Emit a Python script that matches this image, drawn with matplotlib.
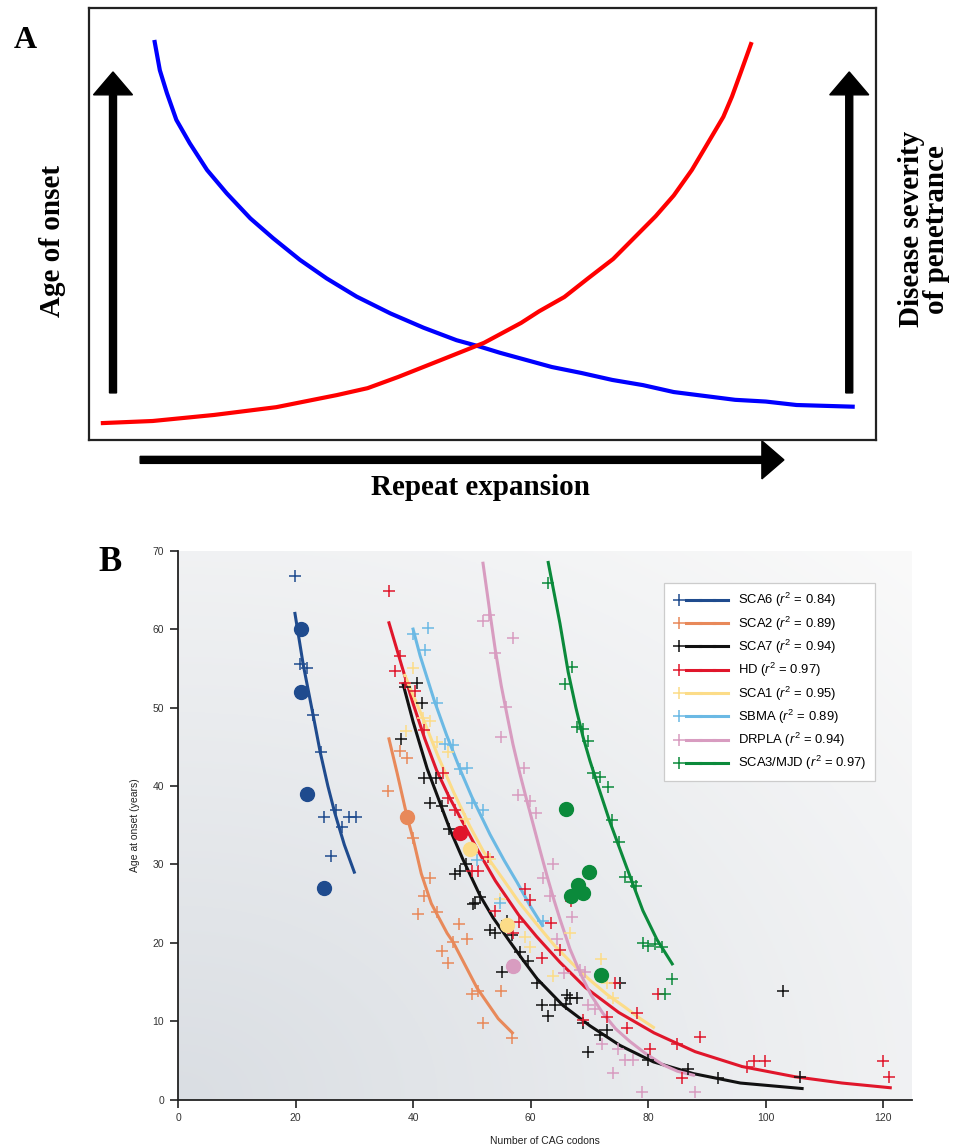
import numpy as np
import matplotlib
matplotlib.use('Agg')
import matplotlib.pyplot as plt
from matplotlib.patches import FancyArrow
from matplotlib.lines import Line2D
from matplotlib.legend_handler import HandlerTuple

plt.rcParams['font.family'] = ['Liberation Sans', 'DejaVu Sans']
plt.rcParams['mathtext.fontset'] = 'custom'
plt.rcParams['mathtext.rm'] = 'Liberation Sans'
plt.rcParams['mathtext.it'] = 'Liberation Sans:italic'

###panel A schematic curves (0-100 box units)###
onset_x = [8.3, 9.0, 9.9, 11.1, 12.8, 15.0, 17.5, 20.5, 23.4, 26.8, 30.2, 34.0, 38.3, 42.5, 46.7, 49.7,
           52.2, 58.8, 62.6, 66.5, 70.4, 74.3, 78.2, 82.1, 86.0, 89.9, 97.3]
onset_y = [92.6, 85.6, 80.3, 74.1, 68.7, 62.5, 57.1, 51.3, 46.7, 41.7, 37.4, 33.2, 29.3, 26.0, 23.1, 21.6,
           20.2, 16.9, 15.5, 13.9, 12.7, 11.1, 10.2, 9.3, 8.9, 8.1, 7.7]
severity_x = [1.5, 8.1, 15.9, 23.8, 31.5, 35.4, 39.3, 44.7, 50.2, 54.9, 57.2, 60.4, 63.4, 66.6, 69.6,
              72.0, 74.3, 76.6, 78.2, 80.6, 81.7, 82.8, 84.2]
severity_y = [3.9, 4.4, 5.8, 7.6, 10.4, 12.0, 14.6, 18.5, 22.5, 27.1, 29.8, 33.1, 37.4, 41.9, 47.4,
              51.8, 56.6, 62.5, 67.4, 74.8, 79.5, 85.0, 92.1]

###panel B data: crosses, filled dots, fitted curves###
sca6_x = [19.9, 20.8, 22.0, 23.0, 24.3, 24.8, 26.9, 27.9, 29.1, 30.3, 26.0]
sca6_y = [66.8, 55.5, 55.1, 49.0, 44.3, 36.0, 36.9, 34.7, 36.0, 36.0, 31.1]
sca6_dot_x = [20.9, 20.9, 22.0, 24.9]
sca6_dot_y = [60.0, 52.0, 39.0, 27.0]
sca6_fit_x = [19.9, 21.3, 23.0, 24.2, 25.5, 26.7, 28.3, 30.0]
sca6_fit_y = [62.0, 55.5, 49.0, 44.3, 40.0, 36.5, 32.5, 29.0]

sca2_x = [35.7, 37.8, 39.0, 40.0, 42.9, 41.9, 44.1, 40.9, 47.9, 49.2, 44.9, 46.8, 46.0, 50.0, 51.0, 51.9, 55.0, 56.9]
sca2_y = [39.4, 44.5, 43.5, 33.3, 28.2, 26.0, 23.9, 23.7, 22.4, 20.5, 18.9, 20.1, 17.4, 13.4, 13.8, 9.8, 13.9, 7.9]
sca2_dot_x = [39.0]
sca2_dot_y = [36.0]
sca2_fit_x = [35.9, 37.3, 39.0, 40.0, 41.4, 43.1, 45.8, 46.8, 50.9, 54.5, 56.9]
sca2_fit_y = [46.0, 41.6, 36.0, 33.3, 28.8, 25.0, 21.2, 20.1, 14.2, 10.3, 8.5]

sca7_x = [38.6, 40.7, 41.5, 38.0, 41.9, 43.9, 42.9, 44.9, 46.1, 49.0, 47.1, 48.0, 51.4, 50.2, 50.6,
          56.0, 53.1, 54.0, 56.9, 55.1, 58.2, 59.6, 61.1, 62.0, 63.0, 64.2, 66.2, 66.7, 67.9, 66.0,
          68.9, 73.0, 71.8, 69.8, 75.2, 80.0, 86.8, 91.9, 103.0, 105.9]
sca7_y = [52.6, 53.1, 50.6, 46.0, 41.0, 41.0, 37.8, 37.5, 34.5, 30.1, 28.8, 29.2, 25.8, 24.9, 25.1,
          22.8, 21.6, 21.2, 21.0, 16.2, 18.8, 17.7, 14.8, 12.0, 10.7, 12.0, 13.3, 12.9, 13.0, 12.2,
          9.8, 8.9, 8.2, 6.0, 14.9, 5.0, 3.9, 2.8, 13.9, 2.9]
sca7_fit_x = [38.3, 40.0, 42.4, 44.6, 46.3, 48.5, 51.4, 53.6, 56.5, 58.5, 61.1, 65.5, 70.1, 75.2, 80.9, 87.7, 95.7, 106.2]
sca7_fit_y = [53.0, 48.2, 42.2, 37.8, 34.4, 30.6, 26.0, 23.2, 20.1, 18.0, 15.4, 12.0, 9.4, 6.9, 4.8, 3.3, 2.1, 1.4]

hd_x = [35.9, 37.8, 36.9, 38.6, 40.4, 41.8, 45.1, 45.9, 47.1, 50.0, 51.0, 52.8, 59.0, 59.9, 54.0,
        58.1, 57.0, 63.5, 66.9, 65.0, 62.0, 74.3, 81.7, 78.1, 73.0, 68.9, 76.4, 80.3, 84.9, 88.9,
        85.8, 96.9, 98.0, 99.9, 120.0, 121.0]
hd_y = [64.9, 56.6, 54.7, 53.1, 52.1, 47.1, 41.7, 38.4, 36.9, 29.2, 29.2, 30.9, 26.8, 25.4, 24.1,
        22.7, 21.3, 22.5, 25.3, 19.1, 18.1, 14.9, 13.5, 11.0, 10.5, 10.1, 9.1, 6.5, 7.1, 8.0,
        2.8, 4.1, 4.9, 4.9, 4.9, 2.9]
hd_dot_x = [48.0]
hd_dot_y = [34.0]
hd_fit_x = [35.9, 38.0, 40.0, 42.0, 44.0, 46.0, 48.0, 51.0, 54.0, 58.0, 61.0, 65.0, 69.3, 75.0, 81.0, 88.0, 96.0, 105.0, 113.0, 121.2]
hd_fit_y = [60.8, 55.5, 50.5, 46.0, 42.0, 38.8, 36.0, 31.8, 27.9, 23.5, 20.8, 17.5, 14.3, 11.1, 8.5, 6.1, 4.2, 2.9, 2.1, 1.5]

sca1_x = [40.0, 41.7, 42.9, 46.0, 38.8, 44.0, 48.9, 53.1, 54.8, 59.0, 59.9, 63.8, 66.7, 72.0, 73.0, 74.0]
sca1_y = [55.0, 48.7, 48.3, 44.3, 47.0, 45.6, 35.8, 30.7, 25.6, 20.7, 19.4, 15.8, 21.2, 17.9, 14.9, 13.0]
sca1_dot_x = [49.7, 56.0]
sca1_dot_y = [32.0, 22.2]
sca1_fit_x = [38.6, 41.8, 44.3, 46.9, 49.7, 52.0, 55.4, 58.0, 61.0, 64.0, 67.0, 70.0, 73.0, 76.0, 78.5, 80.9]
sca1_fit_y = [54.1, 48.4, 43.7, 39.2, 34.8, 31.6, 28.0, 25.2, 22.4, 19.7, 17.4, 15.3, 13.4, 11.8, 10.4, 9.2]

sbma_x = [40.0, 42.6, 42.0, 44.1, 45.4, 46.8, 48.0, 49.2, 50.0, 51.9, 50.9, 62.1, 54.8]
sbma_y = [59.4, 60.1, 57.3, 50.6, 45.4, 45.2, 42.2, 42.3, 37.8, 36.9, 30.5, 22.8, 25.1]
sbma_fit_x = [40.0, 41.2, 43.6, 45.7, 48.0, 50.0, 53.1, 55.5, 57.7, 60.0, 62.0]
sbma_fit_y = [60.0, 56.6, 50.9, 46.5, 42.1, 38.6, 33.8, 30.5, 27.7, 24.6, 22.2]

drpla_x = [52.9, 51.9, 57.0, 54.0, 55.8, 55.0, 58.9, 57.9, 59.9, 60.9, 63.8, 62.1, 63.3, 67.1, 64.5,
           68.4, 69.3, 69.8, 71.0, 72.2, 74.9, 76.1, 77.4, 74.0, 79.0, 88.0, 65.7]
drpla_y = [61.8, 61.0, 58.9, 56.9, 50.1, 46.3, 42.3, 38.8, 38.1, 36.5, 30.1, 28.2, 26.0, 23.3, 20.5,
           16.5, 16.2, 12.0, 11.6, 7.1, 6.5, 5.0, 5.0, 3.4, 1.0, 1.0, 16.1]
drpla_dot_x = [57.0]
drpla_dot_y = [17.0]
drpla_fit_x = [51.9, 53.0, 54.0, 55.0, 56.0, 57.0, 58.2, 59.3, 60.4, 61.6, 62.8, 64.0, 65.0, 66.7, 68.4,
               70.3, 72.3, 74.5, 76.9, 79.5, 82.6, 85.0, 87.7]
drpla_fit_y = [68.4, 62.5, 57.3, 52.8, 49.0, 45.3, 41.5, 38.3, 35.2, 31.8, 28.5, 25.4, 23.0, 19.2, 16.2,
               13.3, 11.0, 9.0, 7.4, 5.9, 4.4, 3.6, 3.1]

sca3_x = [63.0, 67.1, 65.9, 67.9, 68.9, 69.8, 70.6, 71.8, 73.2, 73.9, 75.0, 76.1, 77.3, 78.0, 79.1,
          80.0, 81.2, 82.4, 84.1, 82.9]
sca3_y = [65.9, 55.2, 53.0, 47.5, 47.3, 45.7, 41.7, 41.1, 39.9, 35.6, 32.8, 28.4, 27.7, 27.2, 19.9,
          19.6, 19.8, 19.4, 15.4, 13.5]
sca3_dot_x = [66.0, 70.0, 68.1, 69.0, 66.9, 72.0]
sca3_dot_y = [37.0, 29.0, 27.4, 26.4, 26.0, 15.9]
sca3_fit_x = [63.0, 65.0, 66.4, 67.7, 68.9, 70.1, 71.3, 73.5, 76.4, 79.1, 81.5, 84.1]
sca3_fit_y = [68.5, 60.7, 54.5, 50.0, 46.3, 43.2, 40.4, 35.4, 29.5, 24.1, 20.4, 17.3]

labels = ['SCA6 ($r^2$ = 0.84)', 'SCA2 ($r^2$ = 0.89)', 'SCA7 ($r^2$ = 0.94)', 'HD ($r^2$ = 0.97)',
          'SCA1 ($r^2$ = 0.95)', 'SBMA ($r^2$ = 0.89)', 'DRPLA ($r^2$ = 0.94)', 'SCA3/MJD ($r^2$ = 0.97)']

###color scheme###
c_sca6 = '#1f4b8e'
c_sca2 = '#e8895a'
c_sca7 = '#111111'
c_hd = '#e0162b'
c_sca1 = '#fcdc88'
c_sbma = '#6bb9e4'
c_drpla = '#d89cc0'
c_sca3 = '#0b8a3b'

fig = plt.figure(figsize=(9.61, 11.47), dpi=100)

###panel A###
axA = fig.add_axes([89/961, 1-440/1147, 787/961, 432/1147])
axA.set_xlim(0, 100)
axA.set_ylim(0, 100)
axA.set_xticks([])
axA.set_yticks([])
for s in axA.spines.values():
    s.set_linewidth(1.6)
    s.set_color('#222222')

axA.plot(onset_x, onset_y, color='#0000ff', lw=3.0, solid_capstyle='butt', solid_joinstyle='round')
axA.plot(severity_x, severity_y, color='#ff0000', lw=3.0, solid_capstyle='butt', solid_joinstyle='round')

axA.add_patch(FancyArrow(3.05, 10.9, 0, 74.3, width=0.89, head_width=4.96, head_length=5.3,
                         length_includes_head=True, color='black', clip_on=False))
axA.add_patch(FancyArrow(96.6, 10.9, 0, 74.3, width=0.89, head_width=4.96, head_length=5.3,
                         length_includes_head=True, color='black', clip_on=False))
axA.add_patch(FancyArrow(6.5, -4.6, 81.8, 0, width=1.62, head_width=8.8, head_length=2.8,
                         length_includes_head=True, color='black', clip_on=False))

axA.text(49.7, -10.9, 'Repeat expansion', family='Liberation Serif', weight='bold', fontsize=21,
         ha='center', va='center', clip_on=False)
axA.text(-4.6, 46.0, 'Age of onset', family='Liberation Serif', weight='bold', fontsize=21,
         rotation=90, ha='center', va='center', clip_on=False)
axA.text(106.1, 48.8, 'Disease severity\nof penetrance', family='Liberation Serif', weight='bold',
         fontsize=21, rotation=90, ha='center', va='center', multialignment='center',
         linespacing=0.95, clip_on=False)

fig.text(25/961, 1-40/1147, 'A', family='Liberation Serif', weight='bold', fontsize=23, ha='center', va='center')
fig.text(110/961, 1-562/1147, 'B', family='Liberation Serif', weight='bold', fontsize=25, ha='center', va='center')

###panel B###
axB = fig.add_axes([178/961, 1-1099.5/1147, 734/961, 548.8/1147])
axB.set_xlim(0, 124.9)
axB.set_ylim(0, 70)

#soft grey background, darker toward the origin
gx, gy = np.meshgrid(np.linspace(0, 1, 300), np.linspace(0, 1, 300))
t = np.clip(np.sqrt(gx**2 + gy**2) / np.sqrt(2), 0, 1)[..., None]
c0 = np.array([218, 222, 227]) / 255
c1 = np.array([250, 250, 250]) / 255
bg = c0 + (c1 - c0) * t
axB.imshow(bg, extent=[0, 1, 0, 1], transform=axB.transAxes, origin='lower', aspect='auto', zorder=0)

series = [
    (sca6_x, sca6_y, sca6_dot_x, sca6_dot_y, sca6_fit_x, sca6_fit_y, c_sca6),
    (sca2_x, sca2_y, sca2_dot_x, sca2_dot_y, sca2_fit_x, sca2_fit_y, c_sca2),
    (sca7_x, sca7_y, [], [], sca7_fit_x, sca7_fit_y, c_sca7),
    (hd_x, hd_y, hd_dot_x, hd_dot_y, hd_fit_x, hd_fit_y, c_hd),
    (sca1_x, sca1_y, sca1_dot_x, sca1_dot_y, sca1_fit_x, sca1_fit_y, c_sca1),
    (sbma_x, sbma_y, [], [], sbma_fit_x, sbma_fit_y, c_sbma),
    (drpla_x, drpla_y, drpla_dot_x, drpla_dot_y, drpla_fit_x, drpla_fit_y, c_drpla),
    (sca3_x, sca3_y, sca3_dot_x, sca3_dot_y, sca3_fit_x, sca3_fit_y, c_sca3),
]

handles = []
for cx, cy, dx, dy, fx, fy, col in series:
    axB.plot(fx, fy, color=col, lw=2.2, zorder=2, solid_joinstyle='round')
    axB.plot(cx, cy, ls='none', marker='+', ms=8, mew=1.1, color=col, zorder=3)
    if dx:
        axB.plot(dx, dy, ls='none', marker='o', ms=10, color=col, zorder=4)
    handles.append((Line2D([], [], ls='none', marker='+', ms=8, mew=1.1, color=col),
                    Line2D([], [], color=col, lw=2.2),
                    Line2D([], [], color=col, lw=2.2),
                    Line2D([], [], color=col, lw=2.2)))

leg = axB.legend(handles, labels, handler_map={tuple: HandlerTuple(ndivide=None, pad=0)},
                 loc='upper left', bbox_to_anchor=(0.662, 0.941), borderaxespad=0, fontsize=9.4,
                 handlelength=4.3, handletextpad=0.76, labelspacing=0.39, borderpad=0.62,
                 fancybox=False, framealpha=1, edgecolor='#cccccc')
leg.get_frame().set_linewidth(0.9)
leg.set_zorder(5)

for side in ['top', 'right']:
    axB.spines[side].set_visible(False)
for side in ['left', 'bottom']:
    axB.spines[side].set_linewidth(1.3)
    axB.spines[side].set_color('#222222')

axB.set_xticks([0, 20, 40, 60, 80, 100, 120])
axB.set_yticks([0, 10, 20, 30, 40, 50, 60, 70])
axB.tick_params(direction='out', length=6, width=1.2, color='#222222', labelsize=7.5,
                labelcolor='#333333', pad=4)
axB.set_xlabel('Number of CAG codons', fontsize=7.5, color='#222222', labelpad=9)
axB.set_ylabel('Age at onset (years)', fontsize=7.5, color='#222222', labelpad=9)

fig.savefig('out.png', dpi=100)
